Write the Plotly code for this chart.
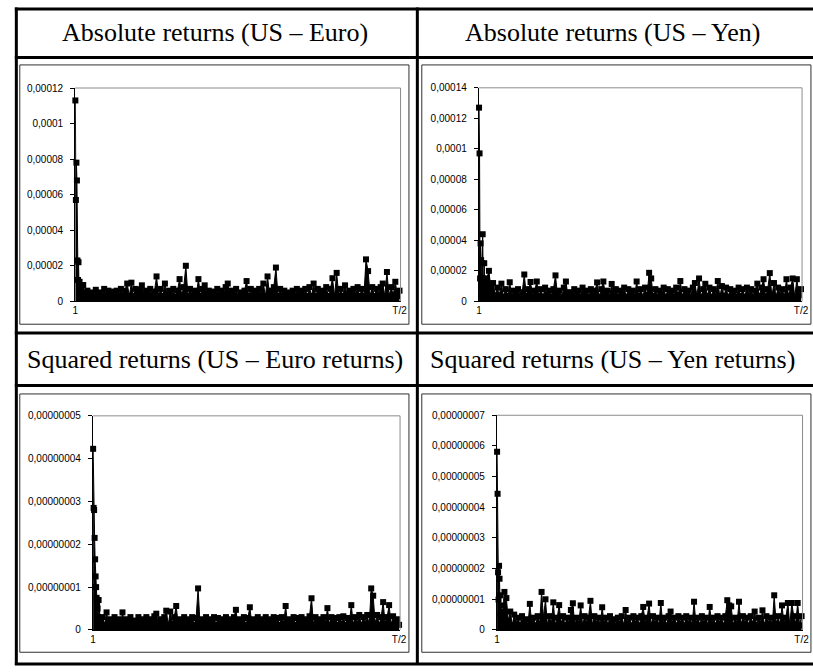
import plotly.graph_objects as go

W, H = 813, 672

# ---------------- data ----------------
titles = ["Absolute returns (US \u2013 Euro)", "Absolute returns (US \u2013 Yen)",
          "Squared returns (US \u2013 Euro returns)", "Squared returns (US \u2013 Yen returns)"]

# Periodogram ordinates.
# *_low  : ordinates at frequency index j = 1..12
# *_band : ordinates at j = 16, 20, 24, ... (every 4th index up to T/2)
# absolute returns in units of 1e-6, squared returns in units of 1e-9
abs_euro_low = [113, 57, 78, 68, 23, 12, 22, 9, 11, 6, 8, 5]
abs_euro_band = [9.2, 4,
                 6, 3, 5, 2.5, 6.5, 3, 5, 2.5, 7, 3,
                 6, 3, 5.5, 2.5, 6, 3, 7, 3, 6, 10,
                 3, 10.5, 3, 7, 3.5, 6.5, 9, 3, 6, 3,
                 7, 3, 5.5, 14, 3, 7, 3, 10, 3, 6,
                 3, 7, 2.5, 6, 12.5, 3.5, 8, 20, 3, 7,
                 3, 6, 3.5, 12.5, 3, 7, 9, 3, 6, 2.5,
                 5.5, 3, 7, 3, 6, 3.5, 8, 10, 3, 6,
                 3, 7, 2.5, 5, 3, 6, 11.4, 3, 7, 3,
                 6, 3, 7, 3.5, 10, 3, 14, 3, 6, 8,
                 19, 3, 7, 3, 6, 2.5, 5, 3, 6, 3,
                 7, 3, 6, 3, 7, 3, 8, 3, 10, 3,
                 7, 3, 6, 3.5, 8, 3, 7, 13, 3, 16,
                 3, 7, 3, 9, 3, 6, 3, 7, 3.5, 8,
                 3, 7, 3, 23.6, 17, 3, 8, 3, 7, 3.5,
                 8, 10, 3, 16.5, 3, 8, 3.5, 11, 3, 6]

abs_yen_low = [127, 97, 15, 38, 27, 12, 25, 44, 15, 10, 25, 12]
abs_yen_band = [15, 20,
                8, 12, 4, 9, 4, 11.6, 3, 8, 3.5, 12.5,
                3, 7, 4, 8, 3, 6, 17.6, 3.5, 8, 12.7,
                3, 7, 13, 3.5, 8, 3, 9, 4, 7, 3,
                8, 17, 3.5, 7, 3, 9, 13, 3.5, 6, 3,
                8, 4, 7, 3, 9, 3.5, 7, 3, 8, 4,
                7, 12.4, 3, 8, 13, 3.5, 7, 3, 11.4, 4,
                8, 3, 7, 3.5, 9, 3, 8, 4, 7, 3,
                13, 3.5, 8, 3, 9, 4, 18.7, 15, 3.5, 8,
                3, 7, 4, 9, 3, 8, 3.5, 7, 3, 9,
                4, 13.3, 3, 8, 3.5, 7, 3, 9, 12, 3.5,
                15, 3, 8, 11.5, 3.5, 9, 3, 8, 4, 13.3,
                3, 10, 3.5, 9, 3, 8, 4, 7, 3, 9,
                3.5, 8, 3, 9, 4, 8, 3, 7, 11.6, 3.5,
                9, 14.5, 3, 8, 18.5, 3.5, 12, 3, 9, 4,
                8, 3, 14.5, 3.5, 9, 15, 3, 14.5, 4, 8]

sq_euro_low = [42.3, 28.5, 28, 21.5, 16.5, 12.5, 10, 7.5, 6, 5, 3, 7]
sq_euro_band = [1.5,
                3, 1.2, 4.1, 1.5, 2.5, 1.2, 3, 1.5, 2.5, 1.2,
                4.1, 1.5, 2.5, 1.2, 3, 1.5, 2.2, 1.2, 3, 1.5,
                2.5, 1.2, 3, 1.5, 2.5, 1.2, 3.2, 3.8, 1.2, 2.5,
                1.5, 3, 4.5, 1.2, 4.3, 1.5, 3, 5.6, 1.2, 2.5,
                1.5, 3, 1.2, 2.5, 1.5, 3, 1.2, 2.8, 9.7, 1.2,
                2.5, 1.5, 3, 1.2, 2.5, 1.5, 3, 1.2, 2.8, 1.5,
                2.5, 1.2, 3, 1.5, 2.5, 1.2, 3, 4.7, 1.2, 2.5,
                1.5, 3, 1.2, 2.8, 5.3, 1.5, 2.5, 1.2, 3, 1.5,
                2.5, 1.2, 3, 1.5, 2.5, 1.2, 3, 1.5, 2.8, 1.2,
                3, 1.5, 5.6, 1.2, 2.5, 1.5, 3, 1.2, 2.8, 1.5,
                3, 1.2, 2.5, 1.5, 3.2, 7.4, 1.2, 3, 1.5, 2.5,
                1.2, 3, 1.5, 5.1, 1.2, 3, 1.5, 2.8, 1.2, 3,
                1.5, 3.2, 1.2, 2.8, 1.5, 5.8, 1.2, 3, 1.5, 3.5,
                1.2, 3, 1.5, 3.5, 1.2, 9.7, 8, 1.5, 3.5, 1.2,
                3, 6.5, 1.5, 3, 5.8, 1.2, 3.2, 1.5, 2.5, 1.2]

sq_yen_low = [58.1, 44.4, 18.8, 9.9, 20.9, 16.7, 11.3, 5, 8, 3, 6, 4]
sq_yen_band = [12.4, 10.4, 3,
               6, 1.5, 5, 2, 4, 1.5, 4.5, 2, 3.5, 1.5,
               8.5, 2, 4, 1.5, 4.5, 2, 12.4, 4, 10, 1.5,
               4.5, 2, 9, 1.5, 4, 8.1, 2, 4.5, 1.5, 4,
               2, 6.5, 8.7, 1.5, 4, 2, 8, 1.5, 4.5, 2,
               4, 9.5, 1.5, 4.5, 2, 4, 1.5, 7.4, 2, 4,
               1.5, 4.5, 2, 3.5, 1.5, 4, 2, 4.5, 1.5, 6.5,
               2, 4, 1.5, 4.5, 2, 4, 1.5, 4.5, 7.5, 2,
               4, 8.6, 1.5, 4.5, 2, 4, 1.5, 8.8, 2, 4,
               1.5, 4.5, 6, 2, 4, 1.5, 4.5, 2, 4, 1.5,
               4.5, 2, 4, 1.5, 9.2, 2, 4, 1.5, 4.5, 2,
               4, 1.5, 7.5, 2, 4, 1.5, 4.5, 2, 4, 1.5,
               4.5, 9.7, 8, 7.7, 1.5, 4, 2, 9.2, 1.5, 4.5,
               2, 4, 1.5, 4.5, 2, 6, 1.5, 4, 2, 6.4,
               1.5, 4.5, 2, 4, 1.5, 11.3, 2, 4.5, 1.5, 8,
               2, 4, 8.8, 1.5, 8.8, 4.5, 2, 8.8, 1.5, 4.5]

x_tick_labels = ["1", "T/2"]

ytick_vals_abs_euro = [0, 0.00002, 0.00004, 0.00006, 0.00008, 0.0001, 0.00012]
ytick_text_abs_euro = ["0", "0,00002", "0,00004", "0,00006", "0,00008", "0,0001", "0,00012"]
ytick_vals_abs_yen = [0, 0.00002, 0.00004, 0.00006, 0.00008, 0.0001, 0.00012, 0.00014]
ytick_text_abs_yen = ["0", "0,00002", "0,00004", "0,00006", "0,00008", "0,0001", "0,00012", "0,00014"]
ytick_vals_sq_euro = [0, 1e-8, 2e-8, 3e-8, 4e-8, 5e-8]
ytick_text_sq_euro = ["0", "0,00000001", "0,00000002", "0,00000003", "0,00000004", "0,00000005"]
ytick_vals_sq_yen = [0, 1e-8, 2e-8, 3e-8, 4e-8, 5e-8, 6e-8, 7e-8]
ytick_text_sq_yen = ["0", "0,00000001", "0,00000002", "0,00000003", "0,00000004",
                     "0,00000005", "0,00000006", "0,00000007"]

panels = [(abs_euro_low, abs_euro_band, 1e-6, ytick_vals_abs_euro, ytick_text_abs_euro),
          (abs_yen_low, abs_yen_band, 1e-6, ytick_vals_abs_yen, ytick_text_abs_yen),
          (sq_euro_low, sq_euro_band, 1e-9, ytick_vals_sq_euro, ytick_text_sq_euro),
          (sq_yen_low, sq_yen_band, 1e-9, ytick_vals_sq_yen, ytick_text_sq_yen)]

# ---------------- layout helpers ----------------
def px(x):
    return x / W

def py(y):
    return 1 - y / H

# plot-area boxes in pixels: (left, right, top, bottom)
boxes = [(73, 402.5, 83.5, 300.7), (481.7, 809, 83.3, 300.7),
         (91, 402, 417.3, 635.3), (500, 809.5, 416.7, 635.3)]

fig = go.Figure()
layout = dict(width=W, height=H, margin=dict(l=0, r=0, t=0, b=0),
              paper_bgcolor="white", plot_bgcolor="white", showlegend=False)

tickfont = dict(family="Liberation Sans, Arial", size=10, color="black")
shapes = []

for i, (low, band, unit, tv, tt) in enumerate(panels):
    j = list(range(1, len(low) + 1)) + [16 + 4 * k for k in range(len(band))]
    vals = [v * unit for v in low + band]
    t_half = j[-1]
    sfx = "" if i == 0 else str(i + 1)
    fig.add_trace(go.Scatter(
        x=j, y=vals, mode="lines+markers", fill="tozeroy", fillcolor="black",
        line=dict(color="black", width=1),
        marker=dict(symbol="square", size=6, color="black", line=dict(width=0)),
        xaxis="x" + sfx, yaxis="y" + sfx, cliponaxis=False, hoverinfo="skip"))
    l, r, t, b = boxes[i]
    layout["xaxis" + sfx] = dict(
        domain=[px(l), px(r)], anchor="y" + sfx, range=[0.5, t_half + 2],
        tickvals=[1, t_half], ticktext=x_tick_labels, ticks="", showgrid=False,
        zeroline=False, showline=True, linecolor="black", linewidth=1,
        tickfont=tickfont, fixedrange=True)
    layout["yaxis" + sfx] = dict(
        domain=[py(b), py(t)], anchor="x" + sfx, range=[0, tv[-1]],
        tickvals=tv, ticktext=tt, ticks="outside", ticklen=4, tickcolor="black",
        ticklabelstandoff=5,
        showgrid=False, zeroline=False, showline=True, linecolor="black", linewidth=1,
        tickfont=tickfont, fixedrange=True)
    xd, yd = "x" + sfx + " domain", "y" + sfx + " domain"
    shapes.append(dict(type="line", xref=xd, yref=yd, x0=0, x1=1, y0=1, y1=1,
                       line=dict(color="#8c8c8c", width=1)))
    shapes.append(dict(type="line", xref=xd, yref=yd, x0=1, x1=1, y0=0, y1=1,
                       line=dict(color="#8c8c8c", width=1)))

# chart-area frames
for (l, r, t, b) in [(17, 411, 60, 324), (424, 818, 60, 324),
                     (17, 411, 395, 658), (424, 818, 395, 658)]:
    shapes.append(dict(type="rect", xref="paper", yref="paper",
                       x0=px(l), x1=px(r), y0=py(b), y1=py(t),
                       line=dict(color="#303030", width=1)))

# table rules
def hline(y):
    return dict(type="line", xref="paper", yref="paper", x0=px(12), x1=px(840),
                y0=py(y), y1=py(y), line=dict(color="black", width=3))

def vline(x):
    return dict(type="line", xref="paper", yref="paper", x0=px(x), x1=px(x),
                y0=py(1.5), y1=py(671), line=dict(color="black", width=3))

for y in [3, 52.5, 333, 386.5, 670]:
    shapes.append(hline(y))
for x in [13.5, 419.5]:
    shapes.append(vline(x))

layout["shapes"] = shapes

title_pos = [(215, 27), (617, 27), (215, 360), (617, 360)]
layout["annotations"] = [
    dict(text=txt, x=px(x), y=py(y), xref="paper", yref="paper", showarrow=False,
         xanchor="center", yanchor="middle",
         font=dict(family="Liberation Serif, Times New Roman", size=26, color="black"))
    for txt, (x, y) in zip(titles, title_pos)]

fig.update_layout(**layout)
fig.write_html("out.html", config={"displayModeBar": False},
               post_script="document.body.style.margin='0px';")
